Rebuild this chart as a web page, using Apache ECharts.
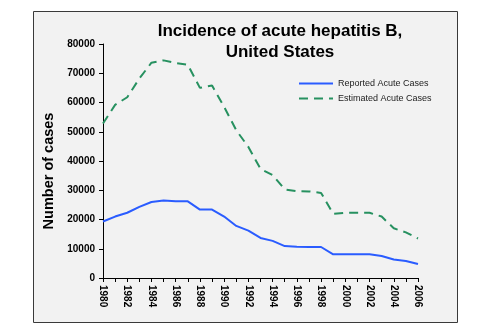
<!DOCTYPE html>
<html><head><meta charset="utf-8">
<script src="https://cdn.jsdelivr.net/npm/echarts@6/dist/echarts.min.js"></script>
<style>html,body{margin:0;padding:0;background:#fff}#c{width:493px;height:335px}</style>
</head><body><div id="c"></div>
<script>
const years = ['1980','1981','1982','1983','1984','1985','1986','1987','1988','1989','1990','1991','1992','1993','1994','1995','1996','1997','1998','1999','2000','2001','2002','2003','2004','2005','2006'];
const reported = [19300,21000,22300,24300,26000,26500,26200,26200,23400,23400,21000,17800,16200,13700,12700,10900,10700,10600,10600,8100,8100,8100,8100,7500,6300,5800,4800];
const estimated = [52800,59200,61800,68200,73600,74400,73500,72900,65000,65800,58500,50500,44800,37300,35200,30300,29700,29600,29100,21900,22300,22300,22300,21000,17000,15600,13500];
const yTicks = {min:0, max:80000, interval:10000};

const chart = echarts.init(document.getElementById('c'), null, {renderer:'canvas'});
chart.setOption({
  backgroundColor:'#ffffff',
  animation:false,
  graphic:[
    {type:'rect', shape:{x:33.5,y:11.5,width:424,height:311}, style:{fill:'#f2f2f2', stroke:'#3a3a3a', lineWidth:1}, z:-10, silent:true},
    {type:'text', x:49, y:171, rotation:Math.PI/2, silent:true,
     style:{text:'Number of cases', fontFamily:'Liberation Sans, Arial, sans-serif', fontWeight:'bold', fontSize:14.5, fill:'#000', align:'center', verticalAlign:'middle'}}
  ],
  title:{
    text:'Incidence of acute hepatitis B,\nUnited States',
    left:275, top:16, textAlign:'center',
    textStyle:{fontFamily:'Liberation Sans, Arial, sans-serif', fontWeight:'bold', fontSize:17, color:'#000', lineHeight:21}
  },
  legend:{
    left:293, top:74, orient:'vertical', itemWidth:34, itemHeight:10, itemGap:6,
    itemStyle:{opacity:0},
    textStyle:{fontFamily:'Liberation Sans, Arial, sans-serif', fontSize:9, color:'#222'},
    data:[{name:'Reported Acute Cases'},{name:'Estimated Acute Cases'}]
  },
  grid:{left:103, right:75, top:44, bottom:57, containLabel:false},
  xAxis:{
    type:'category', data:years, boundaryGap:false,
    axisLine:{lineStyle:{color:'#000', width:1}},
    axisTick:{show:true, interval:0, length:4, lineStyle:{color:'#000'}},
    axisLabel:{interval:1, rotate:-90, margin:7, fontFamily:'Liberation Sans, Arial, sans-serif', fontWeight:'bold', fontSize:10, color:'#000'},
    splitLine:{show:false}
  },
  yAxis:{
    type:'value', min:yTicks.min, max:yTicks.max, interval:yTicks.interval,
    axisLine:{show:true, lineStyle:{color:'#000', width:1}},
    axisTick:{show:true, length:4, lineStyle:{color:'#000'}},
    axisLabel:{margin:8, formatter:function(v){return String(v);}, fontFamily:'Liberation Sans, Arial, sans-serif', fontWeight:'bold', fontSize:10, color:'#000'},
    splitLine:{show:false}
  },
  series:[
    {name:'Reported Acute Cases', type:'line', data:reported, showSymbol:false, symbol:'none',
     lineStyle:{color:'#2a5cff', width:2}, itemStyle:{color:'#2a5cff'}},
    {name:'Estimated Acute Cases', type:'line', data:estimated, showSymbol:false, symbol:'none',
     lineStyle:{color:'#279160', width:2, type:[9,6]}, itemStyle:{color:'#279160'}}
  ]
});
</script></body></html>
